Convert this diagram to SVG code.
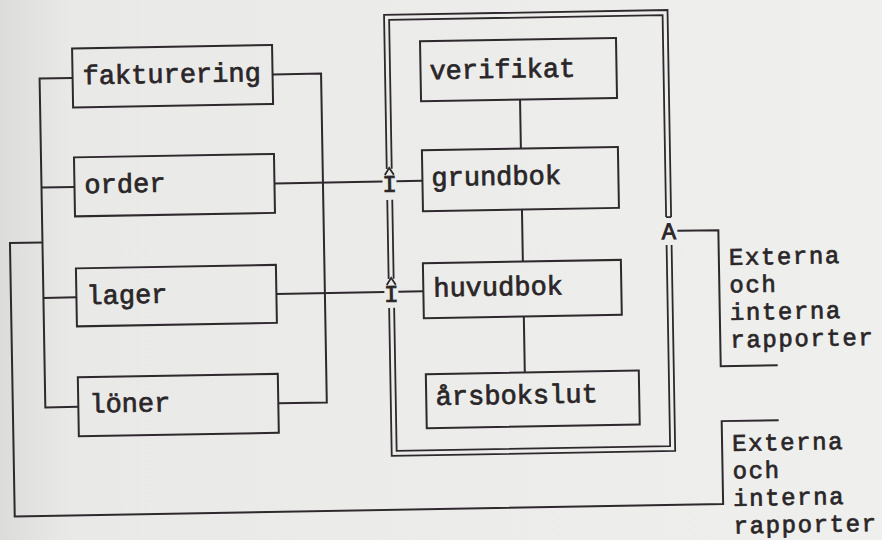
<svg xmlns="http://www.w3.org/2000/svg" width="882" height="540" viewBox="0 0 882 540">
  <defs>
    <linearGradient id="paper" x1="0" y1="0" x2="1" y2="0">
      <stop offset="0" stop-color="#dcdcda"/>
      <stop offset="0.08" stop-color="#e9e9e7"/>
      <stop offset="1" stop-color="#efefed"/>
    </linearGradient>
    <style>
      .box { fill: none; stroke: #2d292c; stroke-width: 2; }
      .ln { fill: none; stroke: #2d292c; stroke-width: 2; }
      .dbl { fill: none; stroke: #2d292c; stroke-width: 1.8; }
      .lbl { font-family: "Liberation Mono", "Courier New", monospace; font-size: 27px; fill: #2a2628; stroke: #2a2628; stroke-width: 0.7px; }
      .rep { font-family: "Liberation Mono", "Courier New", monospace; font-size: 24px; letter-spacing: 1.6px; fill: #2a2628; stroke: #2a2628; stroke-width: 0.7px; }
      .mark { font-family: "Liberation Mono", "Courier New", monospace; font-size: 24px; fill: #2a2628; stroke: #2a2628; stroke-width: 0.8px; text-anchor: middle; }
    </style>
  </defs>

  <rect x="0" y="0" width="882" height="540" fill="url(#paper)"/>

  <g transform="rotate(-1 441 270)">
    <!-- connectors -->
    <g id="connectors">
      <!-- left bus joining the subsystem boxes -->
      <path class="ln" d="M76 71.5 H43 V400.5 H76 M43 180.5 H76 M43 291 H76"/>
      <!-- right bus -->
      <path class="ln" d="M276 71.5 H324.5 V400.5 H276"/>
      <!-- order and lager into the accounting frame -->
      <path class="ln" d="M276 180.5 H384 M398 180.5 H424"/>
      <path class="ln" d="M276 291 H384 M398 291 H423"/>
      <!-- chain inside the frame -->
      <path class="ln" d="M523 101 V150 M523 211 V263 M523 318 V374"/>
      <!-- report outputs -->
      <path class="ln" d="M678 235 H719 V371 H776"/>
      <path class="ln" d="M43 235.5 H10.5 V509 H719 V426 H776"/>
    </g>

    <!-- double frame around the bookkeeping chain -->
    <g id="frame">
      <path class="dbl" d="M388.5 168 V14 H672 V221 M393.5 168 V19 H667 V221 M667 221 H672"/>
      <path class="dbl" d="M388.5 199 V278 M393.5 199 V278"/>
      <path class="dbl" d="M388.5 307 V455 H672 V249 M393.5 307 V450 H667 V249"/>
      <!-- pointed ends of the frame above the I marks -->
      <path class="dbl" d="M386.5 174 L391 167 L395.5 174"/>
      <path class="dbl" d="M386.5 284 L391 277 L395.5 284"/>
      <text class="mark" x="391" y="191">I</text>
      <text class="mark" x="391" y="301">I</text>
      <text class="mark" x="669.5" y="243">A</text>
    </g>

    <g id="fakturering">
      <rect class="box" x="76" y="42" width="200" height="59"/>
      <text class="lbl" x="86" y="78">fakturering</text>
    </g>
    <g id="order">
      <rect class="box" x="76" y="151" width="200" height="59"/>
      <text class="lbl" x="86" y="187">order</text>
    </g>
    <g id="lager">
      <rect class="box" x="76" y="262" width="200" height="58"/>
      <text class="lbl" x="86" y="298">lager</text>
    </g>
    <g id="loner">
      <rect class="box" x="76" y="371" width="200" height="59"/>
      <text class="lbl" x="87" y="406.5">löner</text>
    </g>

    <g id="verifikat">
      <rect class="box" x="424" y="41" width="196" height="60"/>
      <text class="lbl" x="433" y="79">verifikat</text>
    </g>
    <g id="grundbok">
      <rect class="box" x="424" y="150" width="196" height="61"/>
      <text class="lbl" x="433" y="186">grundbok</text>
    </g>
    <g id="huvudbok">
      <rect class="box" x="423" y="263" width="198" height="55"/>
      <text class="lbl" x="433" y="296.5">huvudbok</text>
    </g>
    <g id="arsbokslut">
      <rect class="box" x="424" y="374" width="213" height="54"/>
      <text class="lbl" x="433.5" y="405">årsbokslut</text>
    </g>

    <g id="rapporter-bok">
      <text class="rep" x="729" y="270">Externa</text>
      <text class="rep" x="729" y="297.5">och</text>
      <text class="rep" x="729" y="325">interna</text>
      <text class="rep" x="729" y="352.5">rapporter</text>
    </g>
    <g id="rapporter-system">
      <text class="rep" x="729" y="456">Externa</text>
      <text class="rep" x="729" y="483.5">och</text>
      <text class="rep" x="729" y="511">interna</text>
      <text class="rep" x="729" y="538.5">rapporter</text>
    </g>
  </g>
</svg>
